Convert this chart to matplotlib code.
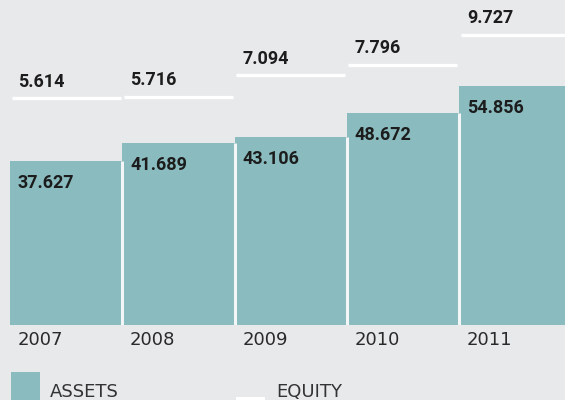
import numpy as np
import matplotlib.pyplot as plt
from matplotlib.patches import Rectangle
from matplotlib import font_manager

years = ['2007', '2008', '2009', '2010', '2011']
assets = [37.627, 41.689, 43.106, 48.672, 54.856]
equity = [5.614, 5.716, 7.094, 7.796, 9.727]

bg = '#e8e9eb'
teal = '#89bbbf'
txt = '#1c1c1c'

names = {f.name for f in font_manager.fontManager.ttflist}
num_font = 'Roboto' if 'Roboto' in names else 'DejaVu Sans'

fig = plt.figure(figsize=(5.65, 4.0), dpi=100)
fig.patch.set_facecolor(bg)

ax = fig.add_axes([0, 75 / 400, 1, 325 / 400])
ax.set_facecolor(bg)
x = np.arange(len(years))
ax.bar(x, assets, width=1.0, color=teal, linewidth=0)
# thin white gaps between neighbouring bars
ax.vlines(x[:-1] + 0.5, 0, np.minimum(assets[:-1], assets[1:]), color='#f4f5f6', linewidth=2.2)
ax.set_xlim(-0.589, 4.444)
ax.set_ylim(0, 325 / 4.36)
ax.axis('off')

for i, v in enumerate(assets):
    ax.annotate(f'{v:.3f}', (x[i] - 0.43, v), xytext=(0, -16), textcoords='offset points',
                ha='left', va='center', fontsize=13, fontweight='bold',
                family=num_font, color=txt)
    ax.annotate(years[i], (x[i] - 0.43, 0), xytext=(0, -11), textcoords='offset points',
                ha='left', va='center', fontsize=13, family='DejaVu Sans',
                color='#2a2a2a')

# equity lines on their own scale
ax2 = ax.twinx()
ax2.set_ylim(-140 / 15.45, 185 / 15.45)
ax2.axis('off')
ax2.hlines(equity, x - 0.485, x + 0.485, color='white', linewidth=2.4)
for i, v in enumerate(equity):
    ax2.annotate(f'{v:.3f}', (x[i] - 0.43, v), xytext=(0, 12), textcoords='offset points',
                 ha='left', va='center', fontsize=13, fontweight='bold',
                 family=num_font, color=txt)

# legend along the bottom edge
fig.add_artist(Rectangle((11 / 565, 0), 29 / 565, 28 / 400, transform=fig.transFigure,
                         facecolor=teal, edgecolor='none'))
fig.text(50 / 565, 3 / 400, 'ASSETS', ha='left', va='baseline', fontsize=13,
         family='DejaVu Sans', color='#333333')
fig.add_artist(Rectangle((236 / 565, 0), 29 / 565, 3 / 400, transform=fig.transFigure,
                         facecolor='white', edgecolor='none'))
fig.text(276 / 565, 3 / 400, 'EQUITY', ha='left', va='baseline', fontsize=13,
         family='DejaVu Sans', color='#333333')

fig.savefig('out.png', dpi=100, facecolor=bg)
